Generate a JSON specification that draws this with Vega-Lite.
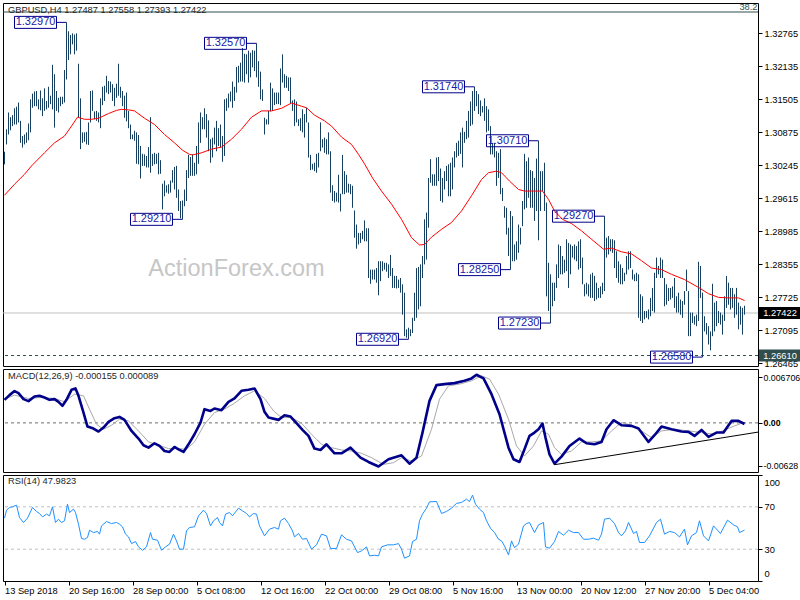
{
"$schema": "https://vega.github.io/schema/vega-lite/v6.json",
"background": "white",
"padding": {"left": 2, "top": 2, "right": 0, "bottom": 0},
"spacing": 3,
"bounds": "flush",
"config": {
  "view": {"stroke": "#000000", "strokeWidth": 1},
  "font": "Liberation Sans",
  "axis": {"labelFont": "Liberation Sans", "labelFontSize": 9.3, "labelColor": "#000000", "tickColor": "#000000", "tickSize": 4, "domain": false, "grid": false, "labelPadding": 2, "labelFlush": false, "labelOverlap": false, "labelBound": false},
  "title": {"anchor": "start", "frame": "group", "font": "Liberation Sans", "fontSize": 9.3, "fontWeight": "normal", "color": "#1e1e1e", "offset": -12, "dx": 5}
},
"datasets": {
"bars": [
{"i":0,"h":1.3050,"l":1.3026},{"i":1,"h":1.3093,"l":1.3064},{"i":2,"h":1.3125,"l":1.3083},{"i":3,"h":1.3116,"l":1.3091},{"i":4,"h":1.3120,"l":1.3099},{"i":5,"h":1.3133,"l":1.3102},{"i":6,"h":1.3136,"l":1.3102},{"i":7,"h":1.3144,"l":1.3106},{"i":8,"h":1.3109,"l":1.3067},{"i":9,"h":1.3080,"l":1.3058},
{"i":10,"h":1.3083,"l":1.3064},{"i":11,"h":1.3087,"l":1.3067},{"i":12,"h":1.3104,"l":1.3072},{"i":13,"h":1.3150,"l":1.3087},{"i":14,"h":1.3161,"l":1.3134},{"i":15,"h":1.3165,"l":1.3137},{"i":16,"h":1.3166,"l":1.3137},{"i":17,"h":1.3150,"l":1.3131},{"i":18,"h":1.3167,"l":1.3129},{"i":19,"h":1.3152,"l":1.3118},
{"i":20,"h":1.3171,"l":1.3128},{"i":21,"h":1.3147,"l":1.3131},{"i":22,"h":1.3174,"l":1.3134},{"i":23,"h":1.3157,"l":1.3141},{"i":24,"h":1.3216,"l":1.3131},{"i":25,"h":1.3198,"l":1.3096},{"i":26,"h":1.3166,"l":1.3128},{"i":27,"h":1.3153,"l":1.3125},{"i":28,"h":1.3155,"l":1.3137},{"i":29,"h":1.3155,"l":1.3141},
{"i":30,"h":1.3206,"l":1.3144},{"i":31,"h":1.3297,"l":1.3188},{"i":32,"h":1.3280,"l":1.3225},{"i":33,"h":1.3273,"l":1.3236},{"i":34,"h":1.3276,"l":1.3255},{"i":35,"h":1.3274,"l":1.3236},{"i":36,"h":1.3276,"l":1.3243},{"i":37,"h":1.3218,"l":1.3115},{"i":38,"h":1.3152,"l":1.3055},{"i":39,"h":1.3087,"l":1.3067},
{"i":40,"h":1.3087,"l":1.3069},{"i":41,"h":1.3088,"l":1.3064},{"i":42,"h":1.3106,"l":1.3063},{"i":43,"h":1.3166,"l":1.3106},{"i":44,"h":1.3167,"l":1.3128},{"i":45,"h":1.3127,"l":1.3112},{"i":46,"h":1.3128,"l":1.3109},{"i":47,"h":1.3125,"l":1.3106},{"i":48,"h":1.3152,"l":1.3095},{"i":49,"h":1.3174,"l":1.3139},
{"i":50,"h":1.3176,"l":1.3147},{"i":51,"h":1.3195,"l":1.3163},{"i":52,"h":1.3185,"l":1.3160},{"i":53,"h":1.3184,"l":1.3163},{"i":54,"h":1.3179,"l":1.3147},{"i":55,"h":1.3172,"l":1.3137},{"i":56,"h":1.3180,"l":1.3153},{"i":57,"h":1.3218,"l":1.3157},{"i":58,"h":1.3174,"l":1.3153},{"i":59,"h":1.3166,"l":1.3137},
{"i":60,"h":1.3157,"l":1.3115},{"i":61,"h":1.3163,"l":1.3108},{"i":62,"h":1.3128,"l":1.3095},{"i":63,"h":1.3102,"l":1.3074},{"i":64,"h":1.3083,"l":1.3074},{"i":65,"h":1.3090,"l":1.3071},{"i":66,"h":1.3087,"l":1.3027},{"i":67,"h":1.3082,"l":1.3026},{"i":68,"h":1.3061,"l":1.2999},{"i":69,"h":1.3046,"l":1.3023},
{"i":70,"h":1.3045,"l":1.3023},{"i":71,"h":1.3042,"l":1.3020},{"i":72,"h":1.3059,"l":1.3020},{"i":73,"h":1.3116,"l":1.3010},{"i":74,"h":1.3046,"l":1.3023},{"i":75,"h":1.3048,"l":1.3026},{"i":76,"h":1.3046,"l":1.3027},{"i":77,"h":1.3048,"l":1.3007},{"i":78,"h":1.3034,"l":1.3008},{"i":79,"h":1.2989,"l":1.2940},
{"i":80,"h":1.2995,"l":1.2965},{"i":81,"h":1.2986,"l":1.2972},{"i":82,"h":1.2988,"l":1.2970},{"i":83,"h":1.2995,"l":1.2972},{"i":84,"h":1.3015,"l":1.2991},{"i":85,"h":1.3021,"l":1.2978},{"i":86,"h":1.3023,"l":1.2962},{"i":87,"h":1.2978,"l":1.2937},{"i":88,"h":1.2956,"l":1.2923},{"i":89,"h":1.2957,"l":1.2921},
{"i":90,"h":1.2978,"l":1.2946},{"i":91,"h":1.3015,"l":1.2956},{"i":92,"h":1.3044,"l":1.3000},{"i":93,"h":1.3040,"l":1.3004},{"i":94,"h":1.3045,"l":1.3004},{"i":95,"h":1.3029,"l":1.3004},{"i":96,"h":1.3061,"l":1.3007},{"i":97,"h":1.3106,"l":1.3027},{"i":98,"h":1.3125,"l":1.3067},{"i":99,"h":1.3116,"l":1.3093},
{"i":100,"h":1.3133,"l":1.3093},{"i":101,"h":1.3122,"l":1.3077},{"i":102,"h":1.3110,"l":1.3051},{"i":103,"h":1.3074,"l":1.3029},{"i":104,"h":1.3077,"l":1.3039},{"i":105,"h":1.3096,"l":1.3064},{"i":106,"h":1.3109,"l":1.3051},{"i":107,"h":1.3095,"l":1.3061},{"i":108,"h":1.3102,"l":1.3058},{"i":109,"h":1.3080,"l":1.3031},
{"i":110,"h":1.3150,"l":1.3042},{"i":111,"h":1.3152,"l":1.3128},{"i":112,"h":1.3161,"l":1.3134},{"i":113,"h":1.3165,"l":1.3146},{"i":114,"h":1.3184,"l":1.3134},{"i":115,"h":1.3174,"l":1.3147},{"i":116,"h":1.3212,"l":1.3163},{"i":117,"h":1.3214,"l":1.3182},{"i":118,"h":1.3220,"l":1.3184},{"i":119,"h":1.3248,"l":1.3184},
{"i":120,"h":1.3237,"l":1.3182},{"i":121,"h":1.3236,"l":1.3198},{"i":122,"h":1.3243,"l":1.3182},{"i":123,"h":1.3239,"l":1.3192},{"i":124,"h":1.3244,"l":1.3211},{"i":125,"h":1.3243,"l":1.3204},{"i":126,"h":1.3257,"l":1.3192},{"i":127,"h":1.3223,"l":1.3174},{"i":128,"h":1.3203,"l":1.3150},{"i":129,"h":1.3169,"l":1.3147},
{"i":130,"h":1.3115,"l":1.3083},{"i":131,"h":1.3112,"l":1.3102},{"i":132,"h":1.3128,"l":1.3102},{"i":133,"h":1.3182,"l":1.3127},{"i":134,"h":1.3171,"l":1.3128},{"i":135,"h":1.3163,"l":1.3139},{"i":136,"h":1.3163,"l":1.3141},{"i":137,"h":1.3163,"l":1.3141},{"i":138,"h":1.3209,"l":1.3139},{"i":139,"h":1.3236,"l":1.3182},
{"i":140,"h":1.3198,"l":1.3172},{"i":141,"h":1.3195,"l":1.3172},{"i":142,"h":1.3192,"l":1.3166},{"i":143,"h":1.3192,"l":1.3141},{"i":144,"h":1.3148,"l":1.3128},{"i":145,"h":1.3150,"l":1.3099},{"i":146,"h":1.3146,"l":1.3106},{"i":147,"h":1.3112,"l":1.3099},{"i":148,"h":1.3114,"l":1.3090},{"i":149,"h":1.3131,"l":1.3087},
{"i":150,"h":1.3122,"l":1.3077},{"i":151,"h":1.3134,"l":1.3106},{"i":152,"h":1.3106,"l":1.3039},{"i":153,"h":1.3044,"l":1.3015},{"i":154,"h":1.3027,"l":1.3016},{"i":155,"h":1.3029,"l":1.3013},{"i":156,"h":1.3046,"l":1.3010},{"i":157,"h":1.3048,"l":1.3020},{"i":158,"h":1.3106,"l":1.3051},{"i":159,"h":1.3074,"l":1.3058},
{"i":160,"h":1.3077,"l":1.3048},{"i":161,"h":1.3074,"l":1.3045},{"i":162,"h":1.3087,"l":1.3045},{"i":163,"h":1.3051,"l":1.2972},{"i":164,"h":1.2986,"l":1.2956},{"i":165,"h":1.2975,"l":1.2953},{"i":166,"h":1.2972,"l":1.2955},{"i":167,"h":1.3006,"l":1.2953},{"i":168,"h":1.2970,"l":1.2936},{"i":169,"h":1.3044,"l":1.2969},
{"i":170,"h":1.3013,"l":1.2969},{"i":171,"h":1.3006,"l":1.2972},{"i":172,"h":1.2989,"l":1.2972},{"i":173,"h":1.2988,"l":1.2969},{"i":174,"h":1.2985,"l":1.2943},{"i":175,"h":1.2938,"l":1.2886},{"i":176,"h":1.2911,"l":1.2865},{"i":177,"h":1.2895,"l":1.2873},{"i":178,"h":1.2895,"l":1.2876},{"i":179,"h":1.2899,"l":1.2883},
{"i":180,"h":1.2919,"l":1.2879},{"i":181,"h":1.2904,"l":1.2879},{"i":182,"h":1.2904,"l":1.2809},{"i":183,"h":1.2825,"l":1.2798},{"i":184,"h":1.2825,"l":1.2806},{"i":185,"h":1.2825,"l":1.2806},{"i":186,"h":1.2828,"l":1.2800},{"i":187,"h":1.2841,"l":1.2776},{"i":188,"h":1.2841,"l":1.2803},{"i":189,"h":1.2841,"l":1.2822},
{"i":190,"h":1.2838,"l":1.2825},{"i":191,"h":1.2838,"l":1.2821},{"i":192,"h":1.2835,"l":1.2809},{"i":193,"h":1.2853,"l":1.2813},{"i":194,"h":1.2828,"l":1.2790},{"i":195,"h":1.2813,"l":1.2790},{"i":196,"h":1.2813,"l":1.2789},{"i":197,"h":1.2806,"l":1.2790},{"i":198,"h":1.2809,"l":1.2781},{"i":199,"h":1.2797,"l":1.2739},
{"i":200,"h":1.2781,"l":1.2698},{"i":201,"h":1.2711,"l":1.2695},{"i":202,"h":1.2714,"l":1.2692},{"i":203,"h":1.2711,"l":1.2698},{"i":204,"h":1.2733,"l":1.2704},{"i":205,"h":1.2781,"l":1.2727},{"i":206,"h":1.2828,"l":1.2733},{"i":207,"h":1.2830,"l":1.2749},{"i":208,"h":1.2835,"l":1.2755},{"i":209,"h":1.2851,"l":1.2809},
{"i":210,"h":1.2921,"l":1.2835},{"i":211,"h":1.2934,"l":1.2844},{"i":212,"h":1.3000,"l":1.2905},{"i":213,"h":1.3036,"l":1.2991},{"i":214,"h":1.3007,"l":1.2985},{"i":215,"h":1.3007,"l":1.2985},{"i":216,"h":1.3039,"l":1.2985},{"i":217,"h":1.3040,"l":1.2994},{"i":218,"h":1.3018,"l":1.2956},{"i":219,"h":1.3000,"l":1.2953},
{"i":220,"h":1.3013,"l":1.2978},{"i":221,"h":1.3023,"l":1.2994},{"i":222,"h":1.3026,"l":1.2965},{"i":223,"h":1.3029,"l":1.2965},{"i":224,"h":1.3039,"l":1.2978},{"i":225,"h":1.3051,"l":1.3020},{"i":226,"h":1.3067,"l":1.3039},{"i":227,"h":1.3071,"l":1.3042},{"i":228,"h":1.3087,"l":1.3046},{"i":229,"h":1.3096,"l":1.3020},
{"i":230,"h":1.3088,"l":1.3067},{"i":231,"h":1.3109,"l":1.3074},{"i":232,"h":1.3128,"l":1.3077},{"i":233,"h":1.3146,"l":1.3099},{"i":234,"h":1.3166,"l":1.3102},{"i":235,"h":1.3174,"l":1.3128},{"i":236,"h":1.3166,"l":1.3137},{"i":237,"h":1.3160,"l":1.3122},{"i":238,"h":1.3148,"l":1.3118},{"i":239,"h":1.3137,"l":1.3125},
{"i":240,"h":1.3152,"l":1.3109},{"i":241,"h":1.3137,"l":1.3087},{"i":242,"h":1.3131,"l":1.3090},{"i":243,"h":1.3099,"l":1.3045},{"i":244,"h":1.3067,"l":1.3045},{"i":245,"h":1.3067,"l":1.3039},{"i":246,"h":1.3051,"l":1.2985},{"i":247,"h":1.3048,"l":1.3000},{"i":248,"h":1.3055,"l":1.2969},{"i":249,"h":1.2981,"l":1.2956},
{"i":250,"h":1.2946,"l":1.2924},{"i":251,"h":1.2943,"l":1.2892},{"i":252,"h":1.2905,"l":1.2851},{"i":253,"h":1.2937,"l":1.2825},{"i":254,"h":1.2927,"l":1.2841},{"i":255,"h":1.2873,"l":1.2841},{"i":256,"h":1.2879,"l":1.2844},{"i":257,"h":1.2911,"l":1.2857},{"i":258,"h":1.2905,"l":1.2873},{"i":259,"h":1.2956,"l":1.2908},
{"i":260,"h":1.3046,"l":1.2940},{"i":261,"h":1.3032,"l":1.2943},{"i":262,"h":1.3039,"l":1.2962},{"i":263,"h":1.3015,"l":1.2943},{"i":264,"h":1.3013,"l":1.2943},{"i":265,"h":1.3000,"l":1.2918},{"i":266,"h":1.3037,"l":1.2937},{"i":267,"h":1.3071,"l":1.2881},{"i":268,"h":1.3013,"l":1.2937},{"i":269,"h":1.3013,"l":1.2975},
{"i":270,"h":1.3029,"l":1.2937},{"i":271,"h":1.2953,"l":1.2774},{"i":272,"h":1.2838,"l":1.2746},{"i":273,"h":1.2816,"l":1.2723},{"i":274,"h":1.2800,"l":1.2755},{"i":275,"h":1.2800,"l":1.2765},{"i":276,"h":1.2835,"l":1.2790},{"i":277,"h":1.2873,"l":1.2809},{"i":278,"h":1.2870,"l":1.2816},{"i":279,"h":1.2851,"l":1.2816},
{"i":280,"h":1.2844,"l":1.2819},{"i":281,"h":1.2883,"l":1.2822},{"i":282,"h":1.2876,"l":1.2790},{"i":283,"h":1.2873,"l":1.2816},{"i":284,"h":1.2870,"l":1.2848},{"i":285,"h":1.2873,"l":1.2844},{"i":286,"h":1.2870,"l":1.2841},{"i":287,"h":1.2879,"l":1.2825},{"i":288,"h":1.2883,"l":1.2828},{"i":289,"h":1.2848,"l":1.2797},
{"i":290,"h":1.2797,"l":1.2774},{"i":291,"h":1.2800,"l":1.2778},{"i":292,"h":1.2797,"l":1.2774},{"i":293,"h":1.2816,"l":1.2771},{"i":294,"h":1.2819,"l":1.2771},{"i":295,"h":1.2813,"l":1.2765},{"i":296,"h":1.2800,"l":1.2768},{"i":297,"h":1.2790,"l":1.2771},{"i":298,"h":1.2793,"l":1.2771},{"i":299,"h":1.2800,"l":1.2778},
{"i":300,"h":1.2927,"l":1.2784},{"i":301,"h":1.2886,"l":1.2848},{"i":302,"h":1.2889,"l":1.2854},{"i":303,"h":1.2883,"l":1.2860},{"i":304,"h":1.2883,"l":1.2857},{"i":305,"h":1.2881,"l":1.2828},{"i":306,"h":1.2860,"l":1.2809},{"i":307,"h":1.2841,"l":1.2800},{"i":308,"h":1.2835,"l":1.2797},{"i":309,"h":1.2828,"l":1.2797},
{"i":310,"h":1.2819,"l":1.2803},{"i":311,"h":1.2851,"l":1.2816},{"i":312,"h":1.2860,"l":1.2825},{"i":313,"h":1.2860,"l":1.2828},{"i":314,"h":1.2825,"l":1.2806},{"i":315,"h":1.2816,"l":1.2803},{"i":316,"h":1.2819,"l":1.2803},{"i":317,"h":1.2816,"l":1.2733},{"i":318,"h":1.2778,"l":1.2727},{"i":319,"h":1.2774,"l":1.2723},
{"i":320,"h":1.2746,"l":1.2730},{"i":321,"h":1.2746,"l":1.2733},{"i":322,"h":1.2749,"l":1.2730},{"i":323,"h":1.2771,"l":1.2736},{"i":324,"h":1.2790,"l":1.2746},{"i":325,"h":1.2819,"l":1.2743},{"i":326,"h":1.2848,"l":1.2809},{"i":327,"h":1.2832,"l":1.2816},{"i":328,"h":1.2848,"l":1.2809},{"i":329,"h":1.2844,"l":1.2809},
{"i":330,"h":1.2809,"l":1.2755},{"i":331,"h":1.2797,"l":1.2758},{"i":332,"h":1.2790,"l":1.2765},{"i":333,"h":1.2790,"l":1.2768},{"i":334,"h":1.2793,"l":1.2771},{"i":335,"h":1.2809,"l":1.2752},{"i":336,"h":1.2774,"l":1.2743},{"i":337,"h":1.2781,"l":1.2743},{"i":338,"h":1.2768,"l":1.2739},{"i":339,"h":1.2765,"l":1.2733},
{"i":340,"h":1.2784,"l":1.2758},{"i":341,"h":1.2825,"l":1.2784},{"i":342,"h":1.2784,"l":1.2698},{"i":343,"h":1.2743,"l":1.2698},{"i":344,"h":1.2743,"l":1.2723},{"i":345,"h":1.2736,"l":1.2720},{"i":346,"h":1.2739,"l":1.2717},{"i":347,"h":1.2840,"l":1.2727},{"i":348,"h":1.2832,"l":1.2771},{"i":349,"h":1.2781,"l":1.2658},
{"i":350,"h":1.2736,"l":1.2707},{"i":351,"h":1.2723,"l":1.2701},{"i":352,"h":1.2717,"l":1.2682},{"i":353,"h":1.2707,"l":1.2671},{"i":354,"h":1.2798,"l":1.2698},{"i":355,"h":1.2762,"l":1.2707},{"i":356,"h":1.2765,"l":1.2717},{"i":357,"h":1.2746,"l":1.2723},{"i":358,"h":1.2743,"l":1.2720},{"i":359,"h":1.2739,"l":1.2701},
{"i":360,"h":1.2774,"l":1.2727},{"i":361,"h":1.2813,"l":1.2752},{"i":362,"h":1.2800,"l":1.2758},{"i":363,"h":1.2790,"l":1.2749},{"i":364,"h":1.2790,"l":1.2752},{"i":365,"h":1.2778,"l":1.2733},{"i":366,"h":1.2790,"l":1.2739},{"i":367,"h":1.2762,"l":1.2711},{"i":368,"h":1.2755,"l":1.2720},{"i":369,"h":1.2752,"l":1.2701},
{"i":370,"h":1.2756,"l":1.2739}
],
"ma": [
{"i":0,"v":1.2967},{"i":5,"v":1.2988},{"i":10,"v":1.3007},{"i":13.5,"v":1.3023},{"i":20,"v":1.3048},{"i":25,"v":1.3067},{"i":30,"v":1.3080},{"i":33.5,"v":1.3099},{"i":36.5,"v":1.3116},{"i":40,"v":1.3112},{"i":43.5,"v":1.3112},{"i":47,"v":1.3114},{"i":52,"v":1.3123},{"i":56,"v":1.3129},{"i":58.5,"v":1.3131},{"i":62,"v":1.3130},{"i":65,"v":1.3128},{"i":70,"v":1.3114},{"i":75,"v":1.3102},{"i":80,"v":1.3083},{"i":85,"v":1.3067},{"i":89,"v":1.3053},{"i":92.5,"v":1.3045},{"i":94,"v":1.3044},{"i":98.5,"v":1.3048},{"i":103.5,"v":1.3055},{"i":108.5,"v":1.3059},{"i":113.5,"v":1.3074},{"i":118.5,"v":1.3093},{"i":123.5,"v":1.3116},{"i":128.5,"v":1.3128},{"i":133.5,"v":1.3128},{"i":138.5,"v":1.3133},{"i":143.5,"v":1.3143},{"i":148.5,"v":1.3137},{"i":151,"v":1.3134},{"i":155,"v":1.3120},{"i":160,"v":1.3109},{"i":163.5,"v":1.3099},{"i":168.5,"v":1.3078},{"i":173.5,"v":1.3064},{"i":177,"v":1.3045},{"i":180,"v":1.3027},{"i":184,"v":1.3000},{"i":188.5,"v":1.2975},{"i":193.5,"v":1.2950},{"i":198.5,"v":1.2921},{"i":203.5,"v":1.2886},{"i":207.5,"v":1.2872},{"i":210,"v":1.2873},{"i":213.5,"v":1.2887},{"i":218.5,"v":1.2902},{"i":223.5,"v":1.2915},{"i":228.5,"v":1.2937},{"i":233.5,"v":1.2966},{"i":238.5,"v":1.2997},{"i":242,"v":1.3010},{"i":246,"v":1.3013},{"i":248.5,"v":1.3010},{"i":252.5,"v":1.2994},{"i":257,"v":1.2978},{"i":260,"v":1.2975},{"i":265,"v":1.2975},{"i":269,"v":1.2975},{"i":272,"v":1.2959},{"i":275,"v":1.2937},{"i":279,"v":1.2921},{"i":283.5,"v":1.2913},{"i":288.5,"v":1.2899},{"i":293.5,"v":1.2883},{"i":299.5,"v":1.2864},{"i":303.5,"v":1.2866},{"i":308.5,"v":1.2859},{"i":313.5,"v":1.2855},{"i":318.5,"v":1.2842},{"i":323.5,"v":1.2828},{"i":328.5,"v":1.2825},{"i":333.5,"v":1.2816},{"i":340,"v":1.2806},{"i":347,"v":1.2791},{"i":352,"v":1.2779},{"i":357,"v":1.2772},{"i":362,"v":1.2771},{"i":367,"v":1.2771},{"i":370,"v":1.2766}
],
"labels": [
{"i":31,"p":1.3297,"t":"1.32970"},{"i":126,"p":1.3257,"t":"1.32570"},{"i":89,"p":1.2921,"t":"1.29210"},{"i":202,"p":1.2692,"t":"1.26920"},{"i":235,"p":1.3174,"t":"1.31740"},{"i":267,"p":1.3071,"t":"1.30710"},{"i":253,"p":1.2825,"t":"1.28250"},{"i":273,"p":1.2723,"t":"1.27230"},{"i":300,"p":1.2927,"t":"1.29270"},{"i":349,"p":1.2658,"t":"1.26580"}
],
"tags": [
{"p":1.27422,"t":"1.27422","c":"bid"},{"p":1.2661,"t":"1.26610","c":"level"}
],
"macd": [
{"i":0,"v":0.00338},{"i":2.5,"v":0.00407},{"i":5,"v":0.00466},{"i":7,"v":0.00436},{"i":9.5,"v":0.00348},{"i":12,"v":0.00319},{"i":15,"v":0.00387},{"i":17.5,"v":0.00397},{"i":20,"v":0.00372},{"i":22.5,"v":0.00338},{"i":25,"v":0.00348},{"i":27,"v":0.00309},{"i":29,"v":0.0025},{"i":31,"v":0.00338},{"i":33.5,"v":0.00485},{"i":35.5,"v":0.00505},{"i":37,"v":0.00397},{"i":39.5,"v":0.00152},{"i":41.5,"v":-0.00054},{"i":44.5,"v":-0.00083},{"i":47,"v":-0.00127},{"i":49.5,"v":-0.00069},{"i":52,"v":0.00015},{"i":55,"v":0.00069},{"i":57.5,"v":0.00088},{"i":60,"v":0.00044},{"i":63.5,"v":-0.00118},{"i":67,"v":-0.0023},{"i":69.5,"v":-0.00328},{"i":72,"v":-0.00363},{"i":75,"v":-0.00299},{"i":77.5,"v":-0.00338},{"i":80,"v":-0.00412},{"i":82.5,"v":-0.00426},{"i":85,"v":-0.00353},{"i":87,"v":-0.00387},{"i":89.5,"v":-0.00426},{"i":92,"v":-0.00314},{"i":95,"v":-0.00167},{"i":98,"v":0.00005},{"i":100,"v":0.00201},{"i":103,"v":0.00176},{"i":105,"v":0.00211},{"i":108.5,"v":0.00186},{"i":112,"v":0.00309},{"i":115,"v":0.00358},{"i":118.5,"v":0.0047},{"i":122,"v":0.00485},{"i":125,"v":0.00505},{"i":128,"v":0.00348},{"i":130,"v":0.00162},{"i":132,"v":0.00078},{"i":137,"v":0.00044},{"i":140,"v":0.00113},{"i":143,"v":0.00093},{"i":146,"v":-0.00005},{"i":149,"v":-0.00103},{"i":152,"v":-0.00191},{"i":155,"v":-0.00377},{"i":158,"v":-0.00397},{"i":161,"v":-0.00314},{"i":165,"v":-0.00446},{"i":168.5,"v":-0.00446},{"i":173,"v":-0.00363},{"i":178,"v":-0.0051},{"i":182,"v":-0.00573},{"i":187,"v":-0.0064},{"i":192,"v":-0.00534},{"i":198.5,"v":-0.00475},{"i":202.5,"v":-0.00598},{"i":206,"v":-0.0051},{"i":209,"v":-0.00142},{"i":212.5,"v":0.00323},{"i":216,"v":0.00554},{"i":220,"v":0.00568},{"i":225,"v":0.00583},{"i":230,"v":0.00617},{"i":233.5,"v":0.00652},{"i":236,"v":0.00706},{"i":239.5,"v":0.00652},{"i":243.5,"v":0.00421},{"i":247.5,"v":0.00127},{"i":252,"v":-0.00363},{"i":254.5,"v":-0.00534},{"i":257.5,"v":-0.00573},{"i":260,"v":-0.00387},{"i":262.5,"v":-0.00191},{"i":265,"v":-0.00142},{"i":267,"v":-0.00093},{"i":269,"v":-0.0001},{"i":270.5,"v":-0.00216},{"i":272.5,"v":-0.00461},{"i":275,"v":-0.00598},{"i":278.5,"v":-0.00495},{"i":282.5,"v":-0.00338},{"i":287.5,"v":-0.0023},{"i":291,"v":-0.00299},{"i":295,"v":-0.00314},{"i":298.5,"v":-0.00279},{"i":301,"v":-0.00093},{"i":304.5,"v":0.00039},{"i":308.5,"v":-0.00034},{"i":313.5,"v":-0.00044},{"i":317,"v":-0.00083},{"i":322,"v":-0.00279},{"i":325,"v":-0.00181},{"i":328.5,"v":-0.00054},{"i":333.5,"v":-0.00093},{"i":338.5,"v":-0.00127},{"i":342,"v":-0.00132},{"i":345,"v":-0.00191},{"i":348.5,"v":-0.00103},{"i":352,"v":-0.00206},{"i":356,"v":-0.00142},{"i":359.5,"v":-0.00142},{"i":363.5,"v":0.00029},{"i":367,"v":0.00029},{"i":370,"v":-0.00016}
],
"signal": [
{"i":0,"v":0.00348},{"i":5,"v":0.00407},{"i":12,"v":0.00358},{"i":18.5,"v":0.00372},{"i":25,"v":0.00358},{"i":30,"v":0.00309},{"i":35,"v":0.00421},{"i":39.5,"v":0.00397},{"i":42.5,"v":0.00201},{"i":46,"v":-0.0002},{"i":49.5,"v":-0.00093},{"i":53.5,"v":-0.00034},{"i":57.5,"v":0.00054},{"i":62,"v":0.00029},{"i":67,"v":-0.00118},{"i":72,"v":-0.00279},{"i":77,"v":-0.00328},{"i":82,"v":-0.00377},{"i":87,"v":-0.00377},{"i":91,"v":-0.00387},{"i":95,"v":-0.00279},{"i":100,"v":-0.0002},{"i":105,"v":0.00152},{"i":110,"v":0.00201},{"i":115,"v":0.00289},{"i":120,"v":0.00397},{"i":125,"v":0.0047},{"i":130,"v":0.00358},{"i":134.5,"v":0.00176},{"i":138.5,"v":0.00078},{"i":143.5,"v":0.00078},{"i":148.5,"v":-0.00005},{"i":153.5,"v":-0.00167},{"i":158.5,"v":-0.00314},{"i":163.5,"v":-0.00363},{"i":168.5,"v":-0.00397},{"i":173.5,"v":-0.00412},{"i":178.5,"v":-0.00446},{"i":183.5,"v":-0.0051},{"i":189.5,"v":-0.00608},{"i":194.5,"v":-0.00583},{"i":198.5,"v":-0.0051},{"i":203.5,"v":-0.00559},{"i":208.5,"v":-0.00485},{"i":213.5,"v":-0.00093},{"i":217.5,"v":0.00348},{"i":222,"v":0.00544},{"i":227.5,"v":0.00568},{"i":233.5,"v":0.00617},{"i":238.5,"v":0.00691},{"i":242.5,"v":0.00642},{"i":247,"v":0.00421},{"i":252,"v":0.00054},{"i":256,"v":-0.00338},{"i":260,"v":-0.00485},{"i":264.5,"v":-0.00338},{"i":268.5,"v":-0.00118},{"i":272,"v":-0.00167},{"i":275,"v":-0.00363},{"i":278.5,"v":-0.00461},{"i":283.5,"v":-0.00412},{"i":288.5,"v":-0.00279},{"i":293.5,"v":-0.00279},{"i":298.5,"v":-0.00265},{"i":303.5,"v":-0.00118},{"i":308.5,"v":0.00005},{"i":313.5,"v":-0.00034},{"i":318.5,"v":-0.00118},{"i":323.5,"v":-0.00216},{"i":328.5,"v":-0.00118},{"i":335,"v":-0.00093},{"i":342,"v":-0.00118},{"i":348.5,"v":-0.00142},{"i":355,"v":-0.00167},{"i":361,"v":-0.00093},{"i":365,"v":-0.00044},{"i":370,"v":0.00009}
],
"trend": [{"i":275,"v":-0.00613},{"i":377,"v":-0.00134}],
"rsi": [
{"i":0,"v":59.3},{"i":1,"v":66.8},{"i":2.5,"v":69.4},{"i":4,"v":70},{"i":6,"v":71.6},{"i":7.5,"v":59.9},{"i":9.5,"v":55.2},{"i":11.5,"v":59.3},{"i":14,"v":69.4},{"i":16,"v":65.6},{"i":17.5,"v":63.7},{"i":19,"v":60.5},{"i":21,"v":63.1},{"i":22.5,"v":61.5},{"i":24,"v":70},{"i":25.5,"v":55.2},{"i":27,"v":58.3},{"i":28.5,"v":55.2},{"i":30,"v":56.8},{"i":31.5,"v":72.5},{"i":32.5,"v":64.6},{"i":34.5,"v":67.8},{"i":35.5,"v":64.6},{"i":37,"v":53.6},{"i":38.5,"v":40.1},{"i":40,"v":39.4},{"i":41.5,"v":41},{"i":42.5,"v":47.9},{"i":44.5,"v":45.7},{"i":46.5,"v":46.7},{"i":47.5,"v":44.2},{"i":48.5,"v":52},{"i":51,"v":56.1},{"i":53.5,"v":54.2},{"i":56,"v":55.2},{"i":57.5,"v":53.6},{"i":59,"v":51.1},{"i":60.5,"v":44.2},{"i":62,"v":41.6},{"i":63.5,"v":35.3},{"i":65.5,"v":37.2},{"i":67,"v":32.2},{"i":69,"v":29},{"i":71,"v":32.2},{"i":73,"v":45.7},{"i":74,"v":39.4},{"i":76.5,"v":38.5},{"i":78.5,"v":29},{"i":80.5,"v":32.2},{"i":82.5,"v":34.7},{"i":84.5,"v":44.2},{"i":86,"v":37.8},{"i":87.5,"v":30},{"i":89.5,"v":30},{"i":91,"v":47.3},{"i":92.5,"v":50.5},{"i":95,"v":51.1},{"i":97,"v":61.5},{"i":99.5,"v":66.8},{"i":101,"v":63.7},{"i":103,"v":52},{"i":104.5,"v":56.8},{"i":106.5,"v":59.9},{"i":107.5,"v":55.2},{"i":109,"v":52},{"i":110.5,"v":63.1},{"i":112.5,"v":64.6},{"i":114,"v":61.5},{"i":117,"v":68.7},{"i":119,"v":66.2},{"i":121,"v":63.7},{"i":122.5,"v":60.5},{"i":124.5,"v":63.7},{"i":126,"v":63.1},{"i":127.5,"v":52},{"i":130,"v":42.6},{"i":132.5,"v":48.9},{"i":135,"v":50.5},{"i":137,"v":48.9},{"i":138,"v":56.8},{"i":140,"v":59.3},{"i":142,"v":54.2},{"i":144,"v":47.3},{"i":145,"v":41.6},{"i":147,"v":44.8},{"i":149,"v":39.4},{"i":151,"v":40.1},{"i":153.5,"v":30},{"i":156,"v":34.1},{"i":158.5,"v":44.2},{"i":161,"v":42.6},{"i":163,"v":30.7},{"i":166,"v":30.7},{"i":168.5,"v":43.5},{"i":171,"v":39.4},{"i":173.5,"v":37.8},{"i":176.5,"v":26.8},{"i":178.5,"v":28.4},{"i":181,"v":32.2},{"i":182.5,"v":23.7},{"i":185,"v":24.3},{"i":187,"v":23.7},{"i":188.5,"v":32.2},{"i":191.5,"v":34.1},{"i":194.5,"v":34.1},{"i":197,"v":35.3},{"i":198.5,"v":30},{"i":200,"v":21.5},{"i":202.5,"v":23.7},{"i":204,"v":37.2},{"i":206,"v":39.4},{"i":207.5,"v":56.8},{"i":209,"v":63.1},{"i":211,"v":68.7},{"i":212.5,"v":74.7},{"i":216,"v":75},{"i":218.5,"v":63.7},{"i":221,"v":65.6},{"i":223.5,"v":68.7},{"i":226,"v":73.2},{"i":228.5,"v":74.1},{"i":231,"v":77.2},{"i":232.5,"v":75},{"i":234,"v":81},{"i":235.5,"v":72.5},{"i":237.5,"v":67.8},{"i":239.5,"v":64.6},{"i":241,"v":56.8},{"i":243,"v":49.8},{"i":245,"v":45.7},{"i":247,"v":39.4},{"i":248.5,"v":37.8},{"i":250,"v":33.1},{"i":252,"v":24.6},{"i":253.5,"v":37.8},{"i":255,"v":31.5},{"i":257,"v":34.7},{"i":259.5,"v":52},{"i":261,"v":54.2},{"i":262.5,"v":55.2},{"i":265,"v":45.7},{"i":267,"v":53},{"i":269.5,"v":55.2},{"i":270.5,"v":32.2},{"i":272.5,"v":30.9},{"i":275,"v":37.2},{"i":277,"v":46.7},{"i":279.5,"v":43.2},{"i":282,"v":47.9},{"i":284.5,"v":45.7},{"i":287,"v":45.7},{"i":289.5,"v":39.4},{"i":292,"v":39.4},{"i":294.5,"v":40.4},{"i":297,"v":38.5},{"i":298.5,"v":44.2},{"i":300,"v":58.3},{"i":302.5,"v":59.3},{"i":305,"v":54.2},{"i":307,"v":45.7},{"i":308.5,"v":42.6},{"i":310.5,"v":47.3},{"i":312,"v":55.2},{"i":314.5,"v":44.8},{"i":316,"v":46.7},{"i":317.5,"v":36.3},{"i":320,"v":36.3},{"i":322.5,"v":42.6},{"i":326,"v":55.2},{"i":328,"v":58.3},{"i":330,"v":44.2},{"i":332.5,"v":46.7},{"i":335,"v":45.7},{"i":337.5,"v":41.6},{"i":340,"v":48.9},{"i":341.5,"v":34.1},{"i":343.5,"v":42.6},{"i":346,"v":45.7},{"i":347.5,"v":56.8},{"i":349.5,"v":42.6},{"i":352,"v":37.8},{"i":354.5,"v":52},{"i":358,"v":44.8},{"i":361.5,"v":57.4},{"i":364.5,"v":53},{"i":366.5,"v":51.1},{"i":367.5,"v":45.7},{"i":370,"v":48}
]
},
"vconcat": [
{
 "width": 755, "height": 363,
 "title": {"text": "GBPUSD,H4  1.27487 1.27558 1.27393 1.27422"},
 "layer": [
  {"data": {"values": [{}]}, "mark": {"type": "text", "font": "Liberation Sans", "fontSize": 23.5, "color": "#c6c6c6", "align": "center", "baseline": "middle"},
   "encoding": {"x": {"datum": 116, "type": "quantitative", "scale": {"domain": [-0.75, 376.75], "nice": false, "zero": false}, "axis": null},
                "y": {"datum": 1.2826, "type": "quantitative", "scale": {"domain": [1.2641, 1.3334], "nice": false, "zero": false},
                      "axis": {"orient": "right", "title": null, "values": [1.26465, 1.27095, 1.27725, 1.28355, 1.28985, 1.29615, 1.30245, 1.30875, 1.31505, 1.32135, 1.32765], "format": ".5f"}},
                "text": {"value": "ActionForex.com"}}},
  {"data": {"values": [{}]}, "mark": {"type": "rule", "color": "#c0c0c0", "strokeWidth": 1},
   "encoding": {"y": {"datum": 1.27422, "type": "quantitative", "scale": {"domain": [1.2641, 1.3334], "nice": false, "zero": false},
                      "axis": {"orient": "right", "title": null, "values": [1.26465, 1.27095, 1.27725, 1.28355, 1.28985, 1.29615, 1.30245, 1.30875, 1.31505, 1.32135, 1.32765], "format": ".5f"}}}},
  {"data": {"values": [{}]}, "mark": {"type": "rule", "color": "#2f4f4f", "strokeWidth": 1, "strokeDash": [3, 3]},
   "encoding": {"y": {"datum": 1.2661, "type": "quantitative", "scale": {"domain": [1.2641, 1.3334], "nice": false, "zero": false},
                      "axis": {"orient": "right", "title": null, "values": [1.26465, 1.27095, 1.27725, 1.28355, 1.28985, 1.29615, 1.30245, 1.30875, 1.31505, 1.32135, 1.32765], "format": ".5f"}}}},
  {"data": {"values": [{}]}, "mark": {"type": "rule", "color": "#2f4f4f", "strokeWidth": 1},
   "encoding": {"y": {"datum": 1.33168, "type": "quantitative", "scale": {"domain": [1.2641, 1.3334], "nice": false, "zero": false},
                      "axis": {"orient": "right", "title": null, "values": [1.26465, 1.27095, 1.27725, 1.28355, 1.28985, 1.29615, 1.30245, 1.30875, 1.31505, 1.32135, 1.32765], "format": ".5f"}}}},
  {"data": {"values": [{}]}, "mark": {"type": "text", "align": "right", "baseline": "alphabetic", "dy": -2.5, "color": "#2f4f4f", "fontSize": 9.3, "clip": true},
   "encoding": {"x": {"datum": 376.5, "type": "quantitative", "scale": {"domain": [-0.75, 376.75], "nice": false, "zero": false}, "axis": null},
                "y": {"datum": 1.33168, "type": "quantitative", "scale": {"domain": [1.2641, 1.3334], "nice": false, "zero": false},
                      "axis": {"orient": "right", "title": null, "values": [1.26465, 1.27095, 1.27725, 1.28355, 1.28985, 1.29615, 1.30245, 1.30875, 1.31505, 1.32135, 1.32765], "format": ".5f"}},
                "text": {"value": "38.2"}}},
  {"data": {"name": "bars"}, "mark": {"type": "rule", "color": "#173f5f", "strokeWidth": 1},
   "encoding": {"x": {"field": "i", "type": "quantitative", "scale": {"domain": [-0.75, 376.75], "nice": false, "zero": false}, "axis": null},
                "y": {"field": "l", "type": "quantitative", "scale": {"domain": [1.2641, 1.3334], "nice": false, "zero": false},
                      "axis": {"orient": "right", "title": null, "values": [1.26465, 1.27095, 1.27725, 1.28355, 1.28985, 1.29615, 1.30245, 1.30875, 1.31505, 1.32135, 1.32765], "format": ".5f"}},
                "y2": {"field": "h"}}},
  {"data": {"name": "ma"}, "mark": {"type": "line", "color": "#ff0000", "strokeWidth": 1},
   "encoding": {"x": {"field": "i", "type": "quantitative", "scale": {"domain": [-0.75, 376.75], "nice": false, "zero": false}, "axis": null},
                "y": {"field": "v", "type": "quantitative", "scale": {"domain": [1.2641, 1.3334], "nice": false, "zero": false},
                      "axis": {"orient": "right", "title": null, "values": [1.26465, 1.27095, 1.27725, 1.28355, 1.28985, 1.29615, 1.30245, 1.30875, 1.31505, 1.32135, 1.32765], "format": ".5f"}}}},
  {"data": {"name": "labels"}, "mark": {"type": "point", "shape": "M-1,-0.2857H1V0.2857H-1ZM1,0H1.476", "size": 1764, "filled": false, "stroke": "#00008b", "strokeWidth": 1, "opacity": 1, "xOffset": -31},
   "encoding": {"x": {"field": "i", "type": "quantitative", "scale": {"domain": [-0.75, 376.75], "nice": false, "zero": false}, "axis": null},
                "y": {"field": "p", "type": "quantitative", "scale": {"domain": [1.2641, 1.3334], "nice": false, "zero": false},
                      "axis": {"orient": "right", "title": null, "values": [1.26465, 1.27095, 1.27725, 1.28355, 1.28985, 1.29615, 1.30245, 1.30875, 1.31505, 1.32135, 1.32765], "format": ".5f"}}}},
  {"data": {"name": "labels"}, "mark": {"type": "text", "font": "Liberation Sans", "fontSize": 11, "color": "#1a1aa6", "align": "center", "baseline": "middle", "xOffset": -31},
   "encoding": {"x": {"field": "i", "type": "quantitative", "scale": {"domain": [-0.75, 376.75], "nice": false, "zero": false}, "axis": null},
                "y": {"field": "p", "type": "quantitative", "scale": {"domain": [1.2641, 1.3334], "nice": false, "zero": false},
                      "axis": {"orient": "right", "title": null, "values": [1.26465, 1.27095, 1.27725, 1.28355, 1.28985, 1.29615, 1.30245, 1.30875, 1.31505, 1.32135, 1.32765], "format": ".5f"}},
                "text": {"field": "t"}}},
  {"data": {"name": "tags"}, "mark": {"type": "point", "shape": "M-1,-0.2857H1V0.2857H-1Z", "size": 1764, "filled": true, "opacity": 1},
   "encoding": {"x": {"datum": 387.75, "type": "quantitative", "scale": {"domain": [-0.75, 376.75], "nice": false, "zero": false}, "axis": null},
                "y": {"field": "p", "type": "quantitative", "scale": {"domain": [1.2641, 1.3334], "nice": false, "zero": false},
                      "axis": {"orient": "right", "title": null, "values": [1.26465, 1.27095, 1.27725, 1.28355, 1.28985, 1.29615, 1.30245, 1.30875, 1.31505, 1.32135, 1.32765], "format": ".5f"}},
                "color": {"field": "c", "type": "nominal", "scale": {"domain": ["bid", "level"], "range": ["#000000", "#2f4f4f"]}, "legend": null}}},
  {"data": {"name": "tags"}, "mark": {"type": "text", "font": "Liberation Sans", "fontSize": 9.3, "color": "#ffffff", "align": "center", "baseline": "middle"},
   "encoding": {"x": {"datum": 387.75, "type": "quantitative", "scale": {"domain": [-0.75, 376.75], "nice": false, "zero": false}, "axis": null},
                "y": {"field": "p", "type": "quantitative", "scale": {"domain": [1.2641, 1.3334], "nice": false, "zero": false},
                      "axis": {"orient": "right", "title": null, "values": [1.26465, 1.27095, 1.27725, 1.28355, 1.28985, 1.29615, 1.30245, 1.30875, 1.31505, 1.32135, 1.32765], "format": ".5f"}},
                "text": {"field": "t"}}}
 ]
},
{
 "width": 755, "height": 103,
 "title": {"text": "MACD(12,26,9) -0.000155 0.000089"},
 "layer": [
  {"data": {"values": [{}]}, "mark": {"type": "rule", "color": "#6e6e6e", "strokeWidth": 1, "strokeDash": [3, 3]},
   "encoding": {"y": {"datum": 0, "type": "quantitative", "scale": {"domain": [-0.0072, 0.0079], "nice": false, "zero": false},
                      "axis": {"orient": "right", "title": null, "values": [-0.00628, 0, 0.006706], "labelFontSize": 8.8, "labelPadding": 1, "labelExpr": "datum.value == 0 ? '0.00' : (datum.value > 0 ? '0.006706' : '-0.00628')", "labelFontWeight": {"condition": {"test": "datum.value == 0", "value": "bold"}, "value": "normal"}}}}},
  {"data": {"name": "signal"}, "mark": {"type": "line", "color": "#a9a9a9", "strokeWidth": 1},
   "encoding": {"x": {"field": "i", "type": "quantitative", "scale": {"domain": [-0.75, 376.75], "nice": false, "zero": false}, "axis": null},
                "y": {"field": "v", "type": "quantitative", "scale": {"domain": [-0.0072, 0.0079], "nice": false, "zero": false},
                      "axis": {"orient": "right", "title": null, "values": [-0.00628, 0, 0.006706], "labelFontSize": 8.8, "labelPadding": 1, "labelExpr": "datum.value == 0 ? '0.00' : (datum.value > 0 ? '0.006706' : '-0.00628')", "labelFontWeight": {"condition": {"test": "datum.value == 0", "value": "bold"}, "value": "normal"}}}}},
  {"data": {"name": "macd"}, "mark": {"type": "line", "color": "#00008b", "strokeWidth": 2.6, "strokeJoin": "round"},
   "encoding": {"x": {"field": "i", "type": "quantitative", "scale": {"domain": [-0.75, 376.75], "nice": false, "zero": false}, "axis": null},
                "y": {"field": "v", "type": "quantitative", "scale": {"domain": [-0.0072, 0.0079], "nice": false, "zero": false},
                      "axis": {"orient": "right", "title": null, "values": [-0.00628, 0, 0.006706], "labelFontSize": 8.8, "labelPadding": 1, "labelExpr": "datum.value == 0 ? '0.00' : (datum.value > 0 ? '0.006706' : '-0.00628')", "labelFontWeight": {"condition": {"test": "datum.value == 0", "value": "bold"}, "value": "normal"}}}}},
  {"data": {"name": "trend"}, "mark": {"type": "line", "color": "#000000", "strokeWidth": 1},
   "encoding": {"x": {"field": "i", "type": "quantitative", "scale": {"domain": [-0.75, 376.75], "nice": false, "zero": false}, "axis": null},
                "y": {"field": "v", "type": "quantitative", "scale": {"domain": [-0.0072, 0.0079], "nice": false, "zero": false},
                      "axis": {"orient": "right", "title": null, "values": [-0.00628, 0, 0.006706], "labelFontSize": 8.8, "labelPadding": 1, "labelExpr": "datum.value == 0 ? '0.00' : (datum.value > 0 ? '0.006706' : '-0.00628')", "labelFontWeight": {"condition": {"test": "datum.value == 0", "value": "bold"}, "value": "normal"}}}}}
 ]
},
{
 "width": 755, "height": 106,
 "title": {"text": "RSI(14) 47.9823"},
 "layer": [
  {"data": {"values": [{}]}, "mark": {"type": "rule", "color": "#c0c0c0", "strokeWidth": 1, "strokeDash": [3, 3]},
   "encoding": {"y": {"datum": 70, "type": "quantitative", "scale": {"domain": [0, 100], "nice": false, "zero": false},
                      "axis": {"orient": "right", "title": null, "values": [0, 30, 70, 100], "labelOffset": {"condition": [{"test": "datum.value == 100", "value": 7}, {"test": "datum.value == 0", "value": -8}], "value": 0}}}}},
  {"data": {"values": [{}]}, "mark": {"type": "rule", "color": "#c0c0c0", "strokeWidth": 1, "strokeDash": [3, 3]},
   "encoding": {"y": {"datum": 30, "type": "quantitative", "scale": {"domain": [0, 100], "nice": false, "zero": false},
                      "axis": {"orient": "right", "title": null, "values": [0, 30, 70, 100], "labelOffset": {"condition": [{"test": "datum.value == 100", "value": 7}, {"test": "datum.value == 0", "value": -8}], "value": 0}}}}},
  {"data": {"name": "rsi"}, "mark": {"type": "line", "color": "#1e90ff", "strokeWidth": 1},
   "encoding": {"x": {"field": "i", "type": "quantitative", "scale": {"domain": [-0.75, 376.75], "nice": false, "zero": false},
                      "axis": {"orient": "bottom", "title": null, "values": [0, 32, 64, 96, 128, 160, 192, 224, 256, 288, 320, 352],
                               "labelExpr": "['13 Sep 2018','20 Sep 16:00','28 Sep 00:00','5 Oct 08:00','12 Oct 16:00','22 Oct 00:00','29 Oct 08:00','5 Nov 16:00','13 Nov 00:00','20 Nov 12:00','27 Nov 20:00','5 Dec 04:00'][round(datum.value/32)]",
                               "labelAlign": "left", "labelPadding": 1}},
                "y": {"field": "v", "type": "quantitative", "scale": {"domain": [0, 100], "nice": false, "zero": false},
                      "axis": {"orient": "right", "title": null, "values": [0, 30, 70, 100], "labelOffset": {"condition": [{"test": "datum.value == 100", "value": 7}, {"test": "datum.value == 0", "value": -8}], "value": 0}}}}}
 ]
}
]
}
